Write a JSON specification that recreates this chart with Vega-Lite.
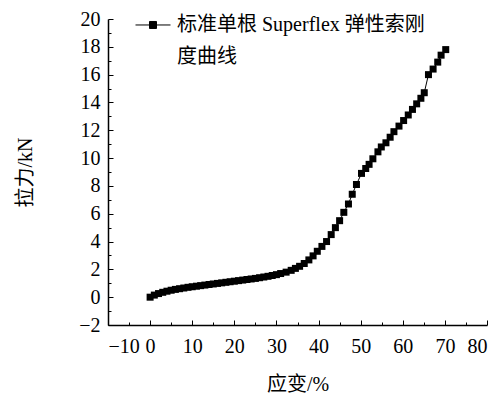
{
  "$schema": "https://vega.github.io/schema/vega-lite/v6.json",
  "width": 379,
  "height": 306,
  "autosize": "none",
  "padding": {"left": 108, "top": 19, "right": 16, "bottom": 71},
  "background": "white",
  "config": {
    "view": {"stroke": null},
    "font": "Liberation Serif, Noto Sans CJK SC",
    "style": {"guide-label": {"lineHeight": 32}},
    "axis": {
      "grid": false,
      "domainColor": "black",
      "domainWidth": 1.5,
      "tickColor": "black",
      "tickWidth": 1,
      "labelColor": "black",
      "labelFont": "Liberation Serif",
      "labelFontSize": 20,
      "titleColor": "black",
      "titleFont": "Liberation Serif, Noto Sans CJK SC",
      "titleFontSize": 20,
      "titleFontWeight": "normal"
    }
  },
  "data": {
    "values": [
      {"strain": 0, "force": 0}, {"strain": 1, "force": 0.15}, {"strain": 2, "force": 0.26},
      {"strain": 3, "force": 0.35}, {"strain": 4, "force": 0.43}, {"strain": 5, "force": 0.5},
      {"strain": 6, "force": 0.56}, {"strain": 7, "force": 0.61}, {"strain": 8, "force": 0.66},
      {"strain": 9, "force": 0.71}, {"strain": 10, "force": 0.75}, {"strain": 11, "force": 0.79},
      {"strain": 12, "force": 0.83}, {"strain": 13, "force": 0.87}, {"strain": 14, "force": 0.91},
      {"strain": 15, "force": 0.95}, {"strain": 16, "force": 0.99}, {"strain": 17, "force": 1.03},
      {"strain": 18, "force": 1.07}, {"strain": 19, "force": 1.11}, {"strain": 20, "force": 1.15},
      {"strain": 21, "force": 1.19}, {"strain": 22, "force": 1.23}, {"strain": 23, "force": 1.27},
      {"strain": 24, "force": 1.31}, {"strain": 25, "force": 1.35}, {"strain": 26, "force": 1.4},
      {"strain": 27, "force": 1.45}, {"strain": 28, "force": 1.5}, {"strain": 29, "force": 1.56},
      {"strain": 30, "force": 1.62}, {"strain": 31, "force": 1.7}, {"strain": 32.3, "force": 1.8},
      {"strain": 33.5, "force": 1.93}, {"strain": 34.5, "force": 2.07}, {"strain": 35.5, "force": 2.22},
      {"strain": 36.6, "force": 2.42}, {"strain": 37.7, "force": 2.68}, {"strain": 38.7, "force": 2.97},
      {"strain": 39.7, "force": 3.3}, {"strain": 40.8, "force": 3.65}, {"strain": 41.9, "force": 4.0},
      {"strain": 43, "force": 4.5}, {"strain": 44, "force": 5.0}, {"strain": 45, "force": 5.5},
      {"strain": 46, "force": 6.1}, {"strain": 47.1, "force": 6.7}, {"strain": 48, "force": 7.4},
      {"strain": 49, "force": 8.1}, {"strain": 50.2, "force": 8.9}, {"strain": 51.2, "force": 9.25},
      {"strain": 52, "force": 9.55}, {"strain": 52.9, "force": 9.95}, {"strain": 54.1, "force": 10.45},
      {"strain": 54.9, "force": 10.8}, {"strain": 56, "force": 11.1}, {"strain": 57, "force": 11.5},
      {"strain": 57.9, "force": 11.9}, {"strain": 59.1, "force": 12.3}, {"strain": 60.2, "force": 12.7},
      {"strain": 61.3, "force": 13.1}, {"strain": 62.3, "force": 13.5}, {"strain": 63.3, "force": 13.9},
      {"strain": 64.3, "force": 14.3}, {"strain": 65.1, "force": 14.7}, {"strain": 66.1, "force": 16.0},
      {"strain": 67.2, "force": 16.4}, {"strain": 68.3, "force": 16.9}, {"strain": 69.1, "force": 17.4},
      {"strain": 70.2, "force": 17.8}
    ]
  },
  "encoding": {
    "x": {
      "field": "strain",
      "type": "quantitative",
      "scale": {"domain": [-10, 80], "nice": false, "zero": false},
      "axis": {
        "title": "应变/%",
        "values": [-10, -5, 0, 5, 10, 15, 20, 25, 30, 35, 40, 45, 50, 55, 60, 65, 70, 75, 80],
        "labelExpr": "datum.value % 10 === 0 ? datum.label : ''",
        "tickSize": {"condition": {"test": "datum.value % 10 === 0", "value": -5}, "value": -3},
        "labelPadding": 16,
        "titleY": 59,
        "titleBaseline": "middle"
      }
    },
    "y": {
      "field": "force",
      "type": "quantitative",
      "scale": {"domain": [-2, 20], "nice": false, "zero": false},
      "axis": {
        "title": "拉力/kN",
        "values": [-2, -1, 0, 1, 2, 3, 4, 5, 6, 7, 8, 9, 10, 11, 12, 13, 14, 15, 16, 17, 18, 19, 20],
        "labelExpr": "datum.value % 2 === 0 ? datum.label : ''",
        "tickSize": {"condition": {"test": "datum.value % 2 === 0", "value": -5}, "value": -3},
        "labelPadding": 13,
        "titleX": -83,
        "titleY": 153,
        "titleBaseline": "middle",
        "titleAngle": -90
      }
    }
  },
  "layer": [
    {
      "mark": {"type": "line", "color": "black", "strokeWidth": 1}
    },
    {
      "mark": {"type": "point", "shape": "square", "filled": true, "size": 49, "opacity": 1},
      "encoding": {
        "color": {
          "datum": "标准单根 Superflex 弹性索刚度曲线",
          "type": "nominal",
          "scale": {"range": ["black"]},
          "legend": {
            "orient": "none",
            "legendX": 27,
            "legendY": -22,
            "title": null,
            "symbolType": "M-1,0.57H-0.2M0.2,0.57H1M-0.2,0.37H0.2V0.77H-0.2Z",
            "symbolSize": 1225,
            "symbolStrokeWidth": 1,
            "symbolStrokeColor": "black",
            "symbolFillColor": "black",
            "labelFont": "Liberation Serif, Noto Sans CJK SC",
            "labelFontSize": 20,
            "labelColor": "black",
            "labelLimit": 400,
            "labelExpr": "['标准单根 Superflex 弹性索刚', '度曲线']",
            "labelBaseline": "top",
            "labelOffset": 6
          }
        }
      }
    }
  ]
}
